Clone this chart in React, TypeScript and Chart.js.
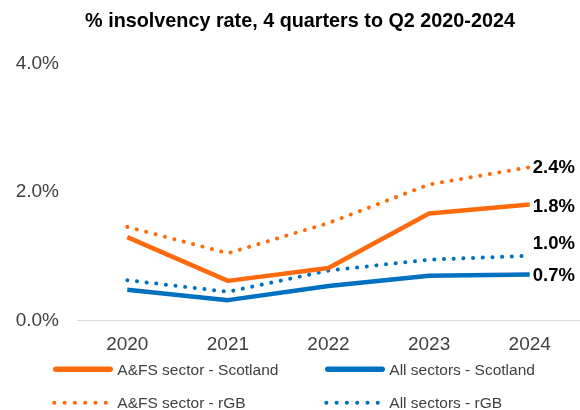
import { useEffect, useRef } from "react";
import { Chart, registerables } from "chart.js";

Chart.register(...registerables);

const years = ["2020", "2021", "2022", "2023", "2024"];
const afsScotland = [1.3, 0.62, 0.82, 1.67, 1.81];
const allScotland = [0.48, 0.32, 0.54, 0.7, 0.72];
const afsRGB = [1.46, 1.05, 1.52, 2.12, 2.39];
const allRGB = [0.63, 0.45, 0.78, 0.95, 1.01];
const seriesLabels = [
  "A&FS sector - Scotland",
  "All sectors - Scotland",
  "A&FS sector - rGB",
  "All sectors - rGB",
];
const titleText = "% insolvency rate, 4 quarters to Q2 2020-2024";
const yMin = 0;
const yMax = 4;
const yStep = 2;

const FONT = "'Liberation Sans', Arial, sans-serif";
const ORANGE = "#FF6A0D";
const BLUE = "#0070C0";

const titlePlugin = {
  id: "customTitle",
  afterDraw(chart: any) {
    const ctx = chart.ctx;
    ctx.save();
    ctx.font = `bold 19.8px ${FONT}`;
    ctx.fillStyle = "#000000";
    ctx.textAlign = "center";
    ctx.textBaseline = "alphabetic";
    ctx.fillText(titleText, chart.width / 2 + 10, 27.3);
    ctx.restore();
  },
};

const endLabelPlugin = {
  id: "endLabels",
  afterDatasetsDraw(chart: any, _args: any, opts: any) {
    const ctx = chart.ctx;
    const offsets: number[] = opts.offsets || [];
    ctx.save();
    ctx.font = `bold 18.5px ${FONT}`;
    ctx.fillStyle = "#000000";
    ctx.textAlign = "left";
    ctx.textBaseline = "alphabetic";
    chart.data.datasets.forEach((ds: any, i: number) => {
      const meta = chart.getDatasetMeta(i);
      const last = meta.data.length - 1;
      const pt = meta.data[last];
      const v = ds.data[last] as number;
      ctx.fillText(v.toFixed(1) + "%", pt.x + 3, pt.y + 6.6 + (offsets[i] || 0));
    });
    ctx.restore();
  },
};

const legendPlugin = {
  id: "gridLegend",
  afterDraw(chart: any) {
    const ctx = chart.ctx;
    const colX = [53, 325];
    const rowY = [369.3, 402.7];
    chart.data.datasets.forEach((ds: any, i: number) => {
      const col = i % 2;
      const row = Math.floor(i / 2);
      const x0 = colX[col];
      const y = rowY[row];
      ctx.save();
      ctx.strokeStyle = ds.borderColor;
      if (ds.borderDash && ds.borderDash.length) {
        ctx.lineWidth = 4;
        ctx.lineCap = "round";
        ctx.setLineDash([0.1, 10.18]);
        ctx.beginPath();
        ctx.moveTo(x0 + 1.3, y);
        ctx.lineTo(x0 + 53, y);
        ctx.stroke();
      } else {
        ctx.lineWidth = 5.5;
        ctx.lineCap = "round";
        ctx.setLineDash([]);
        ctx.beginPath();
        ctx.moveTo(x0 + 2.8, y);
        ctx.lineTo(x0 + 57.2, y);
        ctx.stroke();
      }
      ctx.setLineDash([]);
      ctx.font = `15.5px ${FONT}`;
      ctx.fillStyle = "#404040";
      ctx.textAlign = "left";
      ctx.textBaseline = "alphabetic";
      ctx.fillText(ds.label, x0 + 64.3, y + 5.6);
      ctx.restore();
    });
  },
};

export default function App() {
  const ref = useRef<HTMLCanvasElement>(null);

  useEffect(() => {
    document.body.style.margin = "0";
    document.body.style.overflow = "hidden";
    const solid = (label: string, data: number[], color: string) => ({
      label,
      data,
      borderColor: color,
      backgroundColor: color,
      borderWidth: 4.5,
      borderCapStyle: "butt" as const,
      borderJoinStyle: "round" as const,
      pointRadius: 0,
      pointHoverRadius: 0,
      tension: 0,
      fill: false,
    });
    const dotted = (label: string, data: number[], color: string) => ({
      label,
      data,
      borderColor: color,
      backgroundColor: color,
      borderWidth: 4,
      borderDash: [0.1, 9.6],
      borderCapStyle: "round" as const,
      borderJoinStyle: "round" as const,
      pointRadius: 0,
      pointHoverRadius: 0,
      tension: 0,
      fill: false,
    });

    const chart = new Chart(ref.current!, {
      type: "line",
      data: {
        labels: years,
        datasets: [
          solid(seriesLabels[0], afsScotland, ORANGE),
          solid(seriesLabels[1], allScotland, BLUE),
          dotted(seriesLabels[2], afsRGB, ORANGE),
          dotted(seriesLabels[3], allRGB, BLUE),
        ],
      },
      options: {
        responsive: true,
        maintainAspectRatio: false,
        animation: false,
        events: [],
        layout: { padding: { top: 63.7, left: 0, right: -6, bottom: 0 } },
        plugins: {
          legend: { display: false },
          title: { display: false },
          tooltip: { enabled: false },
          endLabels: { offsets: [1, 0, -1, -13] },
        } as any,
        scales: {
          x: {
            offset: true,
            grid: { display: false, drawTicks: false },
            border: { display: true, color: "#D9D9D9", width: 1 },
            ticks: {
              color: "#404040",
              font: { family: FONT, size: 19 },
              padding: 13,
              maxRotation: 0,
              autoSkip: false,
            },
            afterFit(scale: any) {
              scale.height = 410 - 320.7;
            },
          },
          y: {
            min: yMin,
            max: yMax,
            grid: { display: false, drawTicks: false },
            border: { display: false },
            ticks: {
              stepSize: yStep,
              color: "#404040",
              font: { family: FONT, size: 19 },
              padding: 18,
              callback: (v: any) => Number(v).toFixed(1) + "%",
            },
            afterFit(scale: any) {
              scale.width = 77;
            },
          },
        },
      },
      plugins: [titlePlugin, endLabelPlugin, legendPlugin],
    });
    return () => chart.destroy();
  }, []);

  return (
    <div style={{ width: 580, height: 410, position: "relative" }}>
      <canvas ref={ref} />
    </div>
  );
}
